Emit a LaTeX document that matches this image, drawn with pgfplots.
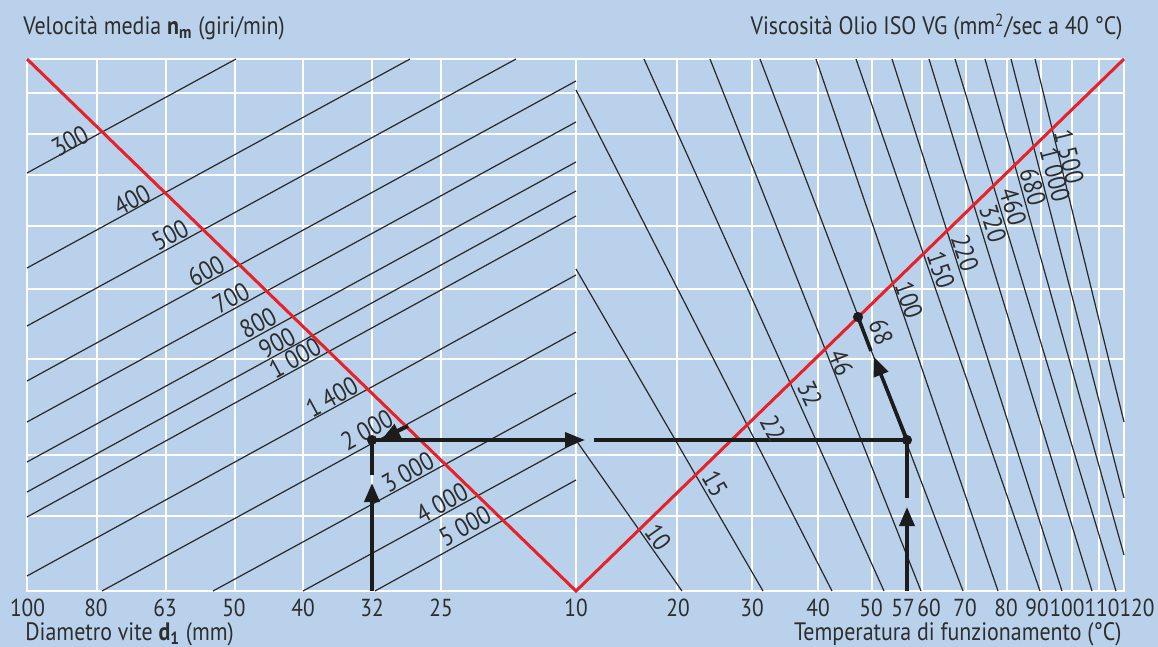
\documentclass[border=0pt]{standalone}
\usepackage{pgfplots}
\pgfplotsset{compat=1.18}
\usepackage{fontspec}
\setmainfont{PT Sans}[FakeStretch=0.87]
\usetikzlibrary{backgrounds,arrows.meta}
\definecolor{bg}{RGB}{185,209,234}
\definecolor{txt}{RGB}{45,45,45}
\definecolor{redl}{RGB}{232,32,40}
\definecolor{ln}{RGB}{40,40,40}
\definecolor{arr}{RGB}{28,28,28}
\begin{document}
\begin{tikzpicture}[show background rectangle, background rectangle/.style={fill=bg,draw=none}, inner frame sep=0pt]
\begin{axis}[
  x=0.5pt, y=0.5pt, y dir=reverse,
  xmin=27, xmax=1124, ymin=59, ymax=591,
  clip=false,
  axis line style={draw=white, line width=0.8pt},
  xtick={97,166,235,303,372,441,576,677,752,818,872,922,966,1007,1041,1072,1099},
  xticklabels={}, xmajorgrids,
  ytick={93,134,175,226,289,359,455,516}, yticklabels={}, ymajorgrids,
  tick style={draw=none},
  major grid style={white, line width=0.8pt},
  every axis plot/.append style={line cap=butt},
]
\path (axis cs:0,0) rectangle (axis cs:1158,647);
% speed lines (left)
\addplot[ln, line width=0.6pt] coordinates {(27,173) (236,59)};
\addplot[ln, line width=0.6pt] coordinates {(27,268) (410,59)};
\addplot[ln, line width=0.6pt] coordinates {(27,326) (516,59)};
\addplot[ln, line width=0.6pt] coordinates {(27,381) (576,81)};
\addplot[ln, line width=0.6pt] coordinates {(27,422) (576,122)};
\addplot[ln, line width=0.6pt] coordinates {(27,462) (576,162)};
\addplot[ln, line width=0.6pt] coordinates {(27,492) (576,191)};
\addplot[ln, line width=0.6pt] coordinates {(27,517) (576,216)};
\addplot[ln, line width=0.6pt] coordinates {(27,576) (576,275)};
\addplot[ln, line width=0.6pt] coordinates {(102,591) (576,332)};
\addplot[ln, line width=0.6pt] coordinates {(213,591) (576,393)};
\addplot[ln, line width=0.6pt] coordinates {(303,591) (576,442)};
\addplot[ln, line width=0.6pt] coordinates {(375,591) (576,480)};
% viscosity lines (right)
\addplot[ln, line width=0.6pt] coordinates {(578,443) (682,591)};
\addplot[ln, line width=0.6pt] coordinates {(576,269) (763,591)};
\addplot[ln, line width=0.6pt] coordinates {(576,90) (832,591)};
\addplot[ln, line width=0.6pt] coordinates {(644,59) (884,591)};
\addplot[ln, line width=0.6pt] coordinates {(710,59) (921,591)};
\addplot[ln, line width=0.6pt] coordinates {(760,59) (963,591)};
\addplot[ln, line width=0.6pt] coordinates {(816,59) (998,591)};
\addplot[ln, line width=0.6pt] coordinates {(856,59) (1040,591)};
\addplot[ln, line width=0.6pt] coordinates {(892,59) (1062,591)};
\addplot[ln, line width=0.6pt] coordinates {(929,59) (1092,591)};
\addplot[ln, line width=0.6pt] coordinates {(955,59) (1116,591)};
\addplot[ln, line width=0.6pt] coordinates {(985,59) (1124,555)};
\addplot[ln, line width=0.6pt] coordinates {(1011,59) (1124,498)};
\addplot[ln, line width=0.6pt] coordinates {(1035,59) (1124,422)};
% red line
\addplot[redl, line width=1.5pt, line join=miter] coordinates {(27,59) (576,591) (1124,59)};
% arrows
\addplot[arr, line width=1.8pt, -{Triangle[length=9.5pt,width=7.5pt]}] coordinates {(372,591) (372,483)};
\addplot[arr, line width=1.8pt] coordinates {(372,475) (372,440)};
\addplot[arr, line width=1.8pt, -{Triangle[length=9pt,width=7.5pt]}] coordinates {(408,426) (382,439)};
\addplot[arr, line width=1.8pt, -{Triangle[length=10pt,width=7.5pt]}] coordinates {(372,440) (585,440)};
\addplot[arr, line width=1.8pt] coordinates {(594,440) (907,440)};
\addplot[arr, line width=1.8pt, -{Triangle[length=9.5pt,width=7.5pt]}] coordinates {(907,591) (907,507)};
\addplot[arr, line width=1.8pt] coordinates {(907,498) (907,440)};
\addplot[arr, line width=1.8pt, -{Triangle[length=9.5pt,width=7.5pt]}] coordinates {(907,440) (874,357)};
\addplot[arr, line width=1.8pt] coordinates {(871,351) (858,317)};
\addplot[arr, only marks, mark=*, mark size=2.3pt] coordinates {(372,440) (907,440) (858,317)};
% speed labels
\begin{scope}[every node/.style={inner sep=0pt, text=txt, font=\fontsize{13}{15}\selectfont}]
\node[rotate=28.6] at (axis cs:70,141) {300};
\node[rotate=28.6] at (axis cs:132,200) {400};
\node[rotate=28.6] at (axis cs:170,235) {500};
\node[rotate=28.6] at (axis cs:206,271) {600};
\node[rotate=28.6] at (axis cs:231,298) {700};
\node[rotate=28.6] at (axis cs:258,323) {800};
\node[rotate=28.6] at (axis cs:277,343) {900};
\node[rotate=28.6] at (axis cs:295,358) {1\kern0.2em000};
\node[rotate=28.6] at (axis cs:332,397) {1\kern0.2em400};
\node[rotate=28.6] at (axis cs:367,430) {2\kern0.2em000};
\node[rotate=28.6] at (axis cs:408,472) {3\kern0.2em000};
\node[rotate=28.6] at (axis cs:442,503) {4\kern0.2em000};
\node[rotate=28.6] at (axis cs:465,526) {5\kern0.2em000};
% viscosity labels
\node[rotate=-54.5] at (axis cs:658,537) {10};
\node[rotate=-60] at (axis cs:715,484) {15};
\node[rotate=-63] at (axis cs:773,428) {22};
\node[rotate=-66] at (axis cs:810,394) {32};
\node[rotate=-68] at (axis cs:841,363) {46};
\node[rotate=-69] at (axis cs:881,332) {68};
\node[rotate=-71] at (axis cs:909,300) {100};
\node[rotate=-71] at (axis cs:941,270) {150};
\node[rotate=-72] at (axis cs:965,253) {220};
\node[rotate=-73] at (axis cs:993,224) {320};
\node[rotate=-73] at (axis cs:1013,207) {460};
\node[rotate=-74] at (axis cs:1033,187) {680};
\node[rotate=-75.5] at (axis cs:1055,175) {1\kern0.2em000};
\node[rotate=-76] at (axis cs:1069,157) {1\kern0.2em500};
\end{scope}
% tick labels
\begin{scope}[every node/.style={inner sep=0pt, anchor=north, text=txt, font=\fontsize{12.3}{14}\selectfont}]
\node at (axis cs:27.5,599) {100};
\node at (axis cs:96,599) {80};
\node at (axis cs:165,599) {63};
\node at (axis cs:234,599) {50};
\node at (axis cs:303,599) {40};
\node at (axis cs:372,599) {32};
\node at (axis cs:441,599) {25};
\node at (axis cs:576,599) {10};
\node at (axis cs:678,599) {20};
\node at (axis cs:752,599) {30};
\node at (axis cs:818,599) {40};
\node at (axis cs:871,599) {50};
\node at (axis cs:903,599) {57};
\node at (axis cs:929,599) {60};
\node at (axis cs:965,599) {70};
\node at (axis cs:1006,599) {80};
\node at (axis cs:1037,599) {90};
\node at (axis cs:1067,599) {100};
\node at (axis cs:1102,599) {110};
\node at (axis cs:1137,599) {120};
\end{scope}
% titles
\begin{scope}[every node/.style={inner sep=0pt, text=txt, font=\fontsize{12.6}{14}\selectfont}]
\node[anchor=base west] at (axis cs:23,35) {Velocità media {\bfseries n\textsubscript{m}} (giri/min)};
\node[anchor=base east] at (axis cs:1123,35) {Viscosità Olio ISO VG (mm\textsuperscript{2}/sec a 40 °C)};
\node[anchor=base west] at (axis cs:25,640) {Diametro vite {\bfseries d\textsubscript{1}} (mm)};
\node[anchor=base east] at (axis cs:1122,640) {Temperatura di funzionamento (°C)};
\end{scope}
\end{axis}
\end{tikzpicture}
\end{document}
